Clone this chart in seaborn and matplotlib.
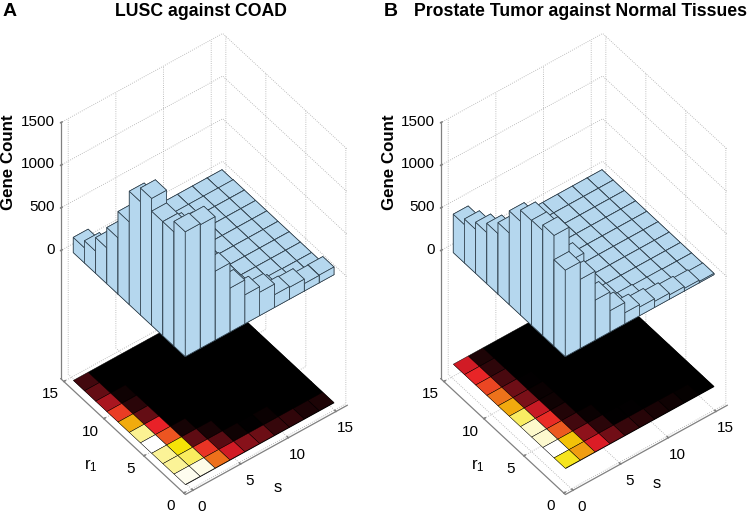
import numpy as np
import matplotlib
matplotlib.use('Agg')
import matplotlib.pyplot as plt
import seaborn as sns
from mpl_toolkits.mplot3d import proj3d

# gene counts, rows are r1 bins (front to back), columns are s bins (left to right)
counts_a = [
    [1465, 1450, 810, 515, 340, 275, 150, 140, 86, 90],
    [1340, 1260, 640, 230, 60, 30, 45, 20, 15, 15],
    [1340, 1130, 245, 75, 20, 20, 15, 15, 15, 15],
    [1490, 735, 75, 20, 15, 15, 15, 15, 15, 15],
    [1330, 580, 25, 15, 15, 15, 15, 15, 15, 15],
    [970, 260, 20, 15, 15, 15, 15, 15, 15, 15],
    [660, 120, 15, 15, 15, 15, 15, 15, 15, 15],
    [420, 60, 15, 15, 15, 15, 15, 15, 15, 15],
    [260, 15, 15, 15, 15, 15, 15, 15, 15, 15],
    [178, 10, 10, 10, 10, 10, 10, 10, 10, 10],
]
counts_b = [
    [1015, 810, 470, 250, 130, 100, 70, 50, 30, 15],
    [1300, 900, 310, 105, 25, 25, 15, 15, 10, 10],
    [1235, 650, 155, 40, 15, 10, 10, 10, 10, 10],
    [1230, 535, 90, 20, 10, 10, 10, 10, 10, 10],
    [1100, 430, 50, 15, 10, 10, 10, 10, 10, 10],
    [840, 270, 40, 10, 10, 10, 10, 10, 10, 10],
    [710, 245, 25, 10, 10, 10, 10, 10, 10, 10],
    [600, 170, 15, 10, 10, 10, 10, 10, 10, 10],
    [516, 115, 10, 10, 10, 10, 10, 10, 10, 10],
    [450, 80, 10, 10, 10, 10, 10, 10, 10, 10],
]
titles = ['LUSC against COAD', 'Prostate Tumor against Normal Tissues']
panel_letters = ['A', 'B']
axis_ticks = [0, 5, 10, 15]
z_ticks = [0, 500, 1000, 1500]

bar_color = '#B5D7EE'
edge_color = '#2A3A46'
axis_color = '#808080'

sns.set_theme(style='white', rc={'grid.color': '#aaaaaa', 'grid.linestyle': ':', 'grid.linewidth': 0.6,
                                 'mathtext.default': 'regular', 'text.color': 'black'})
plt.rcParams['font.family'] = ['Liberation Sans', 'DejaVu Sans']

hot_like = sns.blend_palette(['#000000', '#4E0A10', '#9C141E', '#E81E28', '#EC5C20', '#F0A010',
                              '#F5E100', '#FAF080', '#FFFFFF'], as_cmap=True)

fig = plt.figure(figsize=(7.5, 5.14), dpi=100)


def tick_text(ax, x, y, z, text, dx, dy, **kw):
    px, py, _ = proj3d.proj_transform(x, y, z, ax.get_proj())
    ax.annotate(text, (px, py), xytext=(dx, dy), textcoords='offset pixels', annotation_clip=False,
                color='black', zorder=500, **kw)


def draw_panel(counts, left, floor_z):
    counts = np.array(counts, dtype=float)
    ax = fig.add_axes([left / 750, 17.4 / 514, 453 / 750, 453 / 514], projection='3d', proj_type='ortho')
    ax.computed_zorder = False
    ax.set_facecolor('none')
    ax.set_box_aspect((1, 1, 1.79))
    ax.view_init(elev=45.7, azim=232.4)
    ax.set_xlim(-0.8, 16.2, view_margin=0)
    ax.set_ylim(-0.2, 15.4, view_margin=0)
    ax.set_zlim(-1500, 1500, view_margin=0)

    s_edges = -0.1 + 1.56 * np.arange(11)
    r_edges = 0.65 + 1.4 * np.arange(11)

    # heat map on the floor, the almost empty bins stay pure black
    X, Y = np.meshgrid(s_edges, r_edges)
    shade = np.clip(counts - 20, 0, None) / (counts.max() - 20)
    # black sheet underneath hides the seams between cells
    ax.plot_surface(X[[0, -1]][:, [0, -1]], Y[[0, -1]][:, [0, -1]], np.full((2, 2), floor_z), color='black',
                    shade=False, linewidth=0, zorder=0.5)
    ax.plot_surface(X, Y, np.full(X.shape, floor_z), facecolors=hot_like(shade),
                    rstride=1, cstride=1, shade=False, edgecolor='#000000', linewidth=0.3, zorder=1)

    # bars back to front so they overlap like the original
    order = 2
    for r in range(9, -1, -1):
        for s in range(9, -1, -1):
            ax.bar3d(s_edges[s], r_edges[r], 0, 1.56, 1.4, counts[r, s], color=bar_color,
                     edgecolor=edge_color, linewidth=0.5, shade=False, zorder=order)
            order += 1

    ax.set_xticks(axis_ticks)
    ax.set_yticks(axis_ticks)
    ax.set_zticks(z_ticks)
    ax.set_xticklabels([])
    ax.set_yticklabels([])
    ax.set_zticklabels([])
    ax.tick_params(axis='both', color=axis_color)
    for axis in (ax.xaxis, ax.yaxis, ax.zaxis):
        axis.set_pane_color((1, 1, 1, 0))
        axis.pane.set_edgecolor('none')
        axis.line.set_color(axis_color)
        axis.line.set_linewidth(0.9)
        axis._axinfo['tick'].update(inward_factor=0, outward_factor=0.12, color=axis_color)

    for t in axis_ticks:
        tick_text(ax, -0.8, t, -1500, str(t), -13, -13, fontsize=11, ha='center', va='center')
        tick_text(ax, t, -0.2, -1500, str(t), 9, -17, fontsize=11, ha='center', va='center')
    for t in z_ticks:
        tick_text(ax, -0.8, 15.4, t, str(t), -6, 1, fontsize=11, ha='right', va='center')
    return ax


draw_panel(counts_a, -28.6, -1500)
draw_panel(counts_b, 351.4, -1310)

fig.text(8.5 / 750, 1 - 162 / 514, 'Gene Count', fontsize=12.2, fontweight='bold', rotation=90, ha='center', va='center')
fig.text(390 / 750, 1 - 162 / 514, 'Gene Count', fontsize=12.2, fontweight='bold', rotation=90, ha='center', va='center')
fig.text(91 / 750, 1 - 466 / 514, '$r_1$', fontsize=12, ha='center', va='center')
fig.text(478 / 750, 1 - 466 / 514, '$r_1$', fontsize=12, ha='center', va='center')
fig.text(278 / 750, 1 - 487 / 514, 's', fontsize=12, ha='center', va='center')
fig.text(657 / 750, 1 - 484 / 514, 's', fontsize=12, ha='center', va='center')

fig.text(201 / 750, 1 - 12 / 514, titles[0], fontsize=12.7, fontweight='bold', ha='center', va='center')
fig.text(580 / 750, 1 - 12 / 514, titles[1], fontsize=12.7, fontweight='bold', ha='center', va='center')
fig.text(3 / 750, 1 - 11 / 514, panel_letters[0], fontsize=14, fontweight='bold', va='center')
fig.text(384 / 750, 1 - 11 / 514, panel_letters[1], fontsize=14, fontweight='bold', va='center')

fig.savefig('out.png', dpi=100)
